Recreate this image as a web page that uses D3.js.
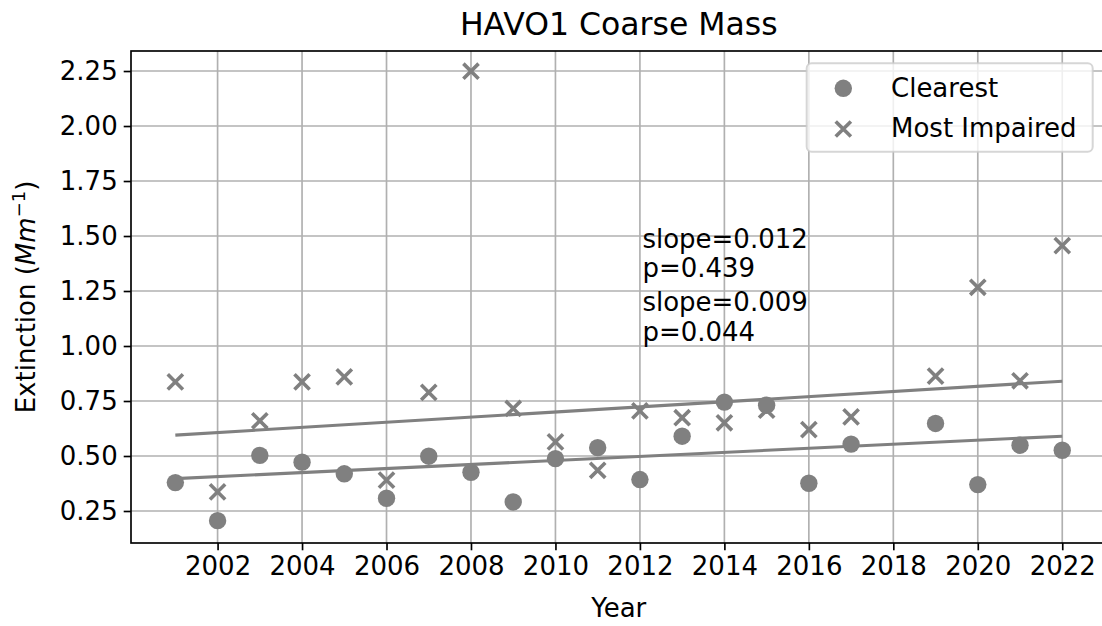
<!DOCTYPE html>
<html>
<head>
<meta charset="utf-8">
<script src="https://cdn.jsdelivr.net/npm/d3@7"></script>
<style>
  html, body { margin: 0; padding: 0; background: #fff; }
  svg text { font-family: "DejaVu Sans", sans-serif; fill: #000; }
</style>
</head>
<body>
<div id="chart-area"></div>
<script>
const WIDTH = 1102;
const HEIGHT = 626;
const MARK_COLOR = '#808080';
const FONT = "26px";

const years = [2001, 2002, 2003, 2004, 2005, 2006, 2007, 2008, 2009, 2010, 2011,
    2012, 2013, 2014, 2015, 2016, 2017, 2019, 2020, 2021, 2022];
const clearest = [0.379, 0.206, 0.503, 0.472, 0.419, 0.308, 0.499, 0.426, 0.291, 0.488, 0.538,
    0.393, 0.590, 0.745, 0.731, 0.376, 0.554, 0.648, 0.370, 0.549, 0.526];
const mostImpaired = [0.837, 0.337, 0.660, 0.837, 0.860, 0.390, 0.789, 2.249, 0.716, 0.564, 0.435,
    0.705, 0.674, 0.651, 0.708, 0.620, 0.678, 0.863, 1.267, 0.842, 1.456];

// fitted trend lines, end points
const trendYears = [2001, 2022];
const trendClearest = [0.397, 0.590];
const trendImpaired = [0.595, 0.840];

const xTicks = [2002, 2004, 2006, 2008, 2010, 2012, 2014, 2016, 2018, 2020, 2022];
const yTicks = [0.25, 0.50, 0.75, 1.00, 1.25, 1.50, 1.75, 2.00, 2.25];
const annotations = [["slope=0.012", "p=0.439"], ["slope=0.009", "p=0.044"]];
const seriesNames = ["Clearest", "Most Impaired"];

const plot = { left: 131, right: 1106.6, top: 51, bottom: 543 };

const svg = d3.select("#chart-area").append("svg")
    .attr("width", WIDTH)
    .attr("height", HEIGHT);

const x = d3.scaleLinear()
    .domain([1999.95, 2023.05])
    .range([plot.left, plot.right]);
const y = d3.scaleLinear()
    .domain([0.1045, 2.341])
    .range([plot.bottom, plot.top]);

// grid
svg.append("g")
    .selectAll("line")
    .data(xTicks)
    .enter()
    .append("line")
    .attr("x1", d => x(d)).attr("x2", d => x(d))
    .attr("y1", plot.top).attr("y2", plot.bottom)
    .attr("stroke", "#b0b0b0").attr("stroke-width", 1.67);
svg.append("g")
    .selectAll("line")
    .data(yTicks)
    .enter()
    .append("line")
    .attr("x1", plot.left).attr("x2", plot.right)
    .attr("y1", d => y(d)).attr("y2", d => y(d))
    .attr("stroke", "#b0b0b0").attr("stroke-width", 1.67);

// trend lines
const line = d3.line()
    .x((d, i) => x(trendYears[i]))
    .y(d => y(d));
[trendImpaired, trendClearest].forEach(t => {
    svg.append("path")
        .datum(t)
        .attr("fill", "none")
        .attr("stroke", MARK_COLOR)
        .attr("stroke-width", 3.1)
        .attr("d", line);
});

// markers
const R = 8.7;
const xMark = (cx, cy, s) => `M${cx - s},${cy - s}L${cx + s},${cy + s}M${cx - s},${cy + s}L${cx + s},${cy - s}`;

svg.selectAll("circle.clear")
    .data(years)
    .enter()
    .append("circle")
    .attr("class", "clear")
    .attr("cx", d => x(d))
    .attr("cy", (d, i) => y(clearest[i]))
    .attr("r", R)
    .attr("fill", MARK_COLOR);

svg.selectAll("path.impaired")
    .data(years)
    .enter()
    .append("path")
    .attr("class", "impaired")
    .attr("d", (d, i) => xMark(x(d), y(mostImpaired[i]), 7.6))
    .attr("stroke", MARK_COLOR)
    .attr("stroke-width", 3.6)
    .attr("fill", "none");

// spines
svg.append("rect")
    .attr("x", plot.left).attr("y", plot.top)
    .attr("width", plot.right - plot.left).attr("height", plot.bottom - plot.top)
    .attr("fill", "none").attr("stroke", "#000").attr("stroke-width", 1.67);

// axes
const xAxis = svg.append("g")
    .attr("transform", "translate(0," + plot.bottom + ")")
    .call(d3.axisBottom(x).tickValues(xTicks).tickFormat(d3.format("d"))
        .tickSize(7.3).tickPadding(6).tickSizeOuter(0));
const yAxis = svg.append("g")
    .attr("transform", "translate(" + plot.left + ",0)")
    .call(d3.axisLeft(y).tickValues(yTicks).tickFormat(d3.format(".2f"))
        .tickSize(7.3).tickPadding(6).tickSizeOuter(0));
[xAxis, yAxis].forEach(a => {
    a.select(".domain").remove();
    a.selectAll(".tick line").attr("stroke", "#000").attr("stroke-width", 1.67);
    a.selectAll(".tick text")
        .style("font-family", "'DejaVu Sans', sans-serif")
        .style("font-size", FONT)
        .attr("fill", "#000");
});

// annotations
const ax = x(2012) + 2.5;
const bottomBase = y(1.0) - 5;
const blockBases = [[bottomBase - 93.5, bottomBase - 64], [bottomBase - 30, bottomBase]];
annotations.forEach((lines, k) => {
    lines.forEach((t, j) => {
        svg.append("text")
            .attr("x", ax)
            .attr("y", blockBases[k][j])
            .style("font-size", FONT)
            .text(t);
    });
});

// legend
const lg = { x: 806.7, y: 63.3, w: 286, h: 88.4 };
svg.append("rect")
    .attr("x", lg.x).attr("y", lg.y)
    .attr("width", lg.w).attr("height", lg.h)
    .attr("rx", 5).attr("ry", 5)
    .attr("fill", "#fff").attr("fill-opacity", 0.8)
    .attr("stroke", "#cccccc").attr("stroke-opacity", 0.8).attr("stroke-width", 2);
svg.append("circle")
    .attr("cx", 843.3).attr("cy", 88.3).attr("r", R)
    .attr("fill", MARK_COLOR);
svg.append("path")
    .attr("d", xMark(843.3, 129, 7.6))
    .attr("stroke", MARK_COLOR).attr("stroke-width", 3.6);
seriesNames.forEach((name, i) => {
    svg.append("text")
        .attr("x", 891)
        .attr("y", [96.5, 137][i])
        .style("font-size", FONT)
        .text(name);
});

// title and labels
svg.append("text")
    .attr("x", (plot.left + plot.right) / 2)
    .attr("y", 34.5)
    .attr("text-anchor", "middle")
    .style("font-size", "31.5px")
    .text("HAVO1 Coarse Mass");

svg.append("text")
    .attr("x", (plot.left + plot.right) / 2)
    .attr("y", 617)
    .attr("text-anchor", "middle")
    .style("font-size", FONT)
    .text("Year");

const yl = svg.append("text")
    .attr("transform", "translate(35," + ((plot.top + plot.bottom) / 2) + ") rotate(-90)")
    .attr("text-anchor", "middle")
    .style("font-size", FONT);
yl.append("tspan").text("Extinction (");
yl.append("tspan").style("font-style", "italic").text("Mm");
yl.append("tspan").attr("dy", -10).style("font-size", "18px").text("\u22121");
yl.append("tspan").attr("dy", 10).text(")");
</script>
</body>
</html>
